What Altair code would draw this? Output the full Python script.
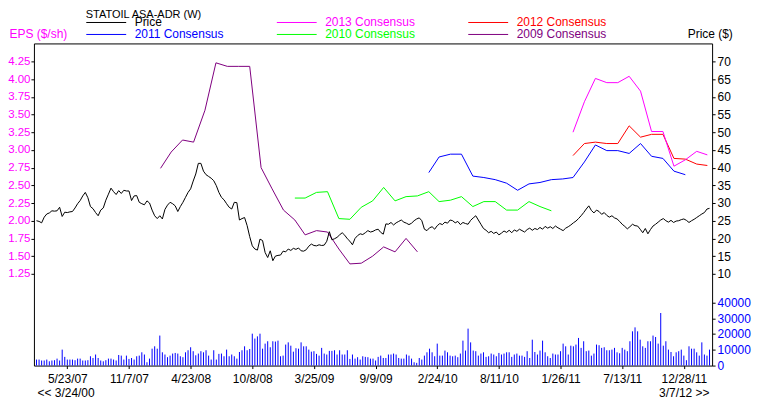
import altair as alt
import pandas as pd

# ---------------- data ----------------
week_start = "2007-02-28"
price = [
    25.0, 24.8, 24.4, 26.0, 26.9, 27.2, 27.8, 27.7, 27.8, 28.8,
    26.2, 27.4, 27.3, 27.5, 27.6, 28.6, 29.8, 30.7, 32.0, 33.0,
    31.5, 29.0, 28.4, 27.3, 26.4, 28.0, 28.6, 30.8, 32.5, 34.2,
    33.2, 32.4, 33.5, 32.7, 33.6, 33.4, 33.4, 30.7, 32.0, 32.1,
    30.2, 29.8, 29.5, 30.6, 30.0, 28.0, 26.4, 25.6, 26.4, 25.5,
    28.2, 29.4, 30.2, 29.8, 29.2, 27.6, 29.0, 30.2, 31.6, 33.0,
    34.0, 36.2, 38.2, 41.2, 41.2, 39.0, 38.0, 37.5, 37.0, 36.3,
    34.9, 33.0, 31.6, 30.9, 29.8, 28.8, 28.3, 30.2, 30.1, 25.2,
    25.6, 25.9, 23.6, 20.5, 17.9, 17.0, 16.7, 19.8, 19.4, 16.0,
    14.6, 16.5, 13.7, 15.0, 15.2, 15.3, 16.4, 16.2, 17.0, 16.6,
    17.2, 16.9, 17.3, 16.5, 16.4, 16.8, 17.8, 18.4, 18.0, 17.9,
    18.2, 18.0, 18.1, 19.2, 21.9, 19.6, 19.9, 20.3, 21.0, 21.6,
    20.9, 19.9, 19.2, 18.2, 20.0, 20.8, 21.3, 21.1, 21.6, 22.2,
    21.8, 22.0, 22.4, 22.6, 21.7, 21.2, 24.1, 24.0, 24.5, 23.8,
    24.4, 24.8, 25.2, 24.6, 24.3, 23.9, 24.3, 25.0, 25.5, 25.8,
    25.0, 22.6, 22.2, 23.0, 23.3, 22.6, 23.6, 24.2, 23.9, 24.6,
    24.3, 25.2, 25.0, 24.4, 24.8, 23.9, 24.5, 24.2, 24.0, 25.1,
    25.8, 26.4, 25.2, 24.0, 22.8, 22.3, 21.6, 22.0, 21.4, 21.8,
    21.0, 21.5, 22.1, 21.7, 22.3, 21.6, 22.4, 22.0, 22.6, 22.2,
    21.8, 22.5, 22.9, 22.3, 22.8, 22.5, 23.1, 22.6, 23.4, 22.9,
    23.3, 22.8, 23.5, 23.0, 22.6, 22.2, 22.9, 23.3, 23.8, 24.4,
    24.9, 25.6, 26.4, 27.3, 28.3, 29.2, 27.9, 27.2, 28.0, 27.6,
    26.8, 27.3, 26.5, 26.0, 26.4, 25.8, 25.5, 24.8, 24.0, 23.4,
    22.7, 23.3, 24.0, 23.6, 23.5, 22.6, 21.6, 22.8, 21.3, 22.5,
    23.5, 24.0, 24.6, 25.2, 25.6, 25.0, 24.6, 25.1, 24.5, 24.9,
    25.0, 25.3, 25.5, 25.1, 24.5, 25.0, 25.4, 25.9, 26.4, 26.9,
    27.3, 28.3, 28.5,
]
volume = [
    3800, 3800, 3200, 3200, 3800, 2700, 3200, 3400, 4400, 3200,
    10100, 5500, 3800, 3800, 3800, 3400, 4400, 4400, 3200, 3200,
    3400, 5900, 4800, 7000, 4800, 3200, 2700, 3400, 4400, 4400,
    3800, 3200, 6700, 6300, 3800, 6300, 4200, 4800, 3800, 5900,
    6300, 8400, 7000, 2100, 4400, 10700, 12200, 10700, 19000, 8400,
    7000, 5300, 6300, 7600, 8000, 7600, 5900, 5300, 8400, 9700,
    11600, 9100, 6500, 7600, 9100, 8400, 9700, 6300, 3800, 9700,
    3800, 7400, 7600, 5900, 10100, 5900, 7000, 5900, 4400, 8600,
    9700, 12200, 9700, 10500, 20200, 17100, 18500, 20200, 10700, 13900,
    15400, 11600, 15400, 15200, 15800, 5900, 6300, 13300, 14700, 12600,
    8800, 11000, 10700, 14700, 12200, 12200, 10100, 8800, 9100, 7400,
    6300, 11200, 7600, 7000, 9300, 9300, 9700, 7000, 9700, 7000,
    7000, 9700, 4200, 7000, 4400, 5300, 3800, 5900, 5500, 5300,
    4400, 4400, 3200,
    5500, 6300, 4800, 4800, 7000, 7000, 7600, 7000, 4800, 4400,
    4400, 7000, 6300, 4400, 2100, 1700, 4800, 3800, 6300, 8400,
    10700, 8400, 5900, 13900, 6300, 6300, 9500, 8400, 6300, 5900,
    6300, 5300, 7600, 15800, 9500, 23400, 14700, 9500, 9100, 6300,
    7600, 8400, 5500, 5900, 7600, 7000, 5900, 8000, 7000, 7600,
    8400, 8400, 5500, 7000, 7600, 6300, 6300, 5500, 9100, 4800,
    16400, 8600, 7000, 9500, 15800, 8400, 5900, 4800, 7600, 7000,
    7000, 9100, 13900, 12200, 7000, 12600, 12200, 13300, 17500, 11200,
    15400, 9100, 9500, 6300, 7600, 13300, 12900, 11200, 11600, 9700,
    9700, 10100, 11200, 8400, 7800, 11200, 10100, 9100, 15400, 21700,
    24200, 21700, 16400, 12200, 11200, 15400, 15400, 19000, 18100, 13900,
    33300, 12600, 15400, 10100, 8600, 5900, 8400, 9100, 10100, 6300,
    3400, 12200, 10700, 10700, 8400, 6300, 14700, 7000, 6300, 10100,
]

cons_2009_start = "2008-02-01"
cons_2009 = [2.74, 2.97, 3.14, 3.11, 3.56, 4.23, 4.18, 4.18, 4.18, 2.75, 2.45, 2.15,
             2.01, 1.80, 1.86, 1.84, 1.60, 1.39, 1.40, 1.50, 1.63, 1.56, 1.75, 1.56]
cons_2010_start = "2009-02-01"
cons_2010 = [2.32, 2.32, 2.40, 2.41, 2.03, 2.02, 2.19, 2.28, 2.47, 2.28, 2.34, 2.35,
             2.41, 2.27, 2.29, 2.34, 2.20, 2.27, 2.27, 2.15, 2.15, 2.27, 2.20, 2.14]
cons_2011_start = "2010-02-01"
cons_2011 = [2.68, 2.90, 2.94, 2.94, 2.63, 2.61, 2.58, 2.53, 2.43, 2.52, 2.54, 2.58,
             2.59, 2.61, 2.83, 3.07, 2.99, 2.99, 2.95, 3.09, 2.91, 2.88, 2.70, 2.65]
cons_2012_start = "2011-03-01"
cons_2012 = [2.92, 3.09, 3.11, 3.09, 3.09, 3.34, 3.18, 3.22, 3.22, 2.88, 2.87, 2.80, 2.78]
cons_2013_start = "2011-03-01"
cons_2013 = [3.25, 3.68, 4.01, 3.95, 3.95, 4.04, 3.83, 3.26, 3.26, 2.77, 2.86, 2.98, 2.93]

series_names = ["Price", "2013 Consensus", "2012 Consensus",
                "2011 Consensus", "2010 Consensus", "2009 Consensus"]
series_colors = ["#000000", "#ff00ff", "#ff0000", "#0000ff", "#00ff00", "#800080"]

eps_ticks = [1.25, 1.5, 1.75, 2.0, 2.25, 2.5, 2.75, 3.0, 3.25, 3.5, 3.75, 4.0, 4.25]
price_ticks = [10, 15, 20, 25, 30, 35, 40, 45, 50, 55, 60, 65, 70]
vol_ticks = [0, 10000, 20000, 30000, 40000]
date_ticks = ["2007-05-23", "2007-11-07", "2008-04-23", "2008-10-08", "2009-03-25",
              "2009-09-09", "2010-02-24", "2010-08-11", "2011-01-26", "2011-07-13",
              "2011-12-28"]
range_labels = ["<< 3/24/00", "3/7/12 >>"]
title_text = "STATOIL ASA-ADR (W)"

# ---------------- tables ----------------
weeks = pd.date_range(week_start, periods=len(price), freq="7D").strftime("%Y-%m-%d")
price_df = pd.DataFrame({"date": weeks, "price": price, "series": "Price"})
vol_df = pd.DataFrame({"date": weeks[: len(volume)], "volume": volume})

rows = []
for name, start, vals in [("2009 Consensus", cons_2009_start, cons_2009),
                          ("2010 Consensus", cons_2010_start, cons_2010),
                          ("2011 Consensus", cons_2011_start, cons_2011),
                          ("2012 Consensus", cons_2012_start, cons_2012),
                          ("2013 Consensus", cons_2013_start, cons_2013)]:
    ds = pd.date_range(start, periods=len(vals), freq="MS").strftime("%Y-%m-%d")
    for d, v in zip(ds, vals):
        rows.append({"date": d, "eps": v, "series": name})
cons_df = pd.DataFrame(rows)

left_lbl = pd.DataFrame({"date": [weeks[0]], "label": [range_labels[0]]})
right_lbl = pd.DataFrame({"date": [weeks[-1]], "label": [range_labels[1]]})


def dt(s):
    y, m, d = (int(p) for p in s.split("-"))
    return alt.DateTime(year=y, month=m, date=d, utc=True)


X = alt.X(
    "date:T",
    scale=alt.Scale(type="utc", domain=[dt("2007-02-21"), dt("2012-03-14")], nice=False),
    axis=alt.Axis(values=[dt(s) for s in date_ticks],
                  labelExpr="utcFormat(datum.value, '%-m/%-d/%y')",
                  title=None, labelPadding=5, labelFlush=False, labelOverlap=False,
                  labelColor="#000000"),
)

color_expr = "".join(
    f"datum.value === '{n}' ? '{c}' : " for n, c in zip(series_names, series_colors)
) + "'#000000'"

legend = alt.Legend(
    title=title_text, orient="none", legendX=52, legendY=-35,
    direction="horizontal", columns=3, symbolType="stroke", symbolSize=1600,
    symbolStrokeWidth=1, clipHeight=12, labelOffset=8, columnPadding=52,
    rowPadding=0, titlePadding=-3, padding=0, labelFontSize=12, titleFontSize=11,
    titleFontWeight="normal", titleColor="#000000", titleAnchor="start",
    titleBaseline="top", labelColor={"expr": color_expr},
)
COLOR = alt.Color("series:N", scale=alt.Scale(domain=series_names, range=series_colors),
                  legend=legend)

vol_layer = alt.Chart(vol_df).mark_rule(color="#0000ff", strokeWidth=1).encode(
    x=X,
    y=alt.Y("volume:Q",
            scale=alt.Scale(domain=[0, 204100], nice=False, zero=True),
            axis=alt.Axis(orient="right", values=vol_ticks, format="d",
                          labelColor="#0000ff", title=None, labelPadding=2)),
    y2=alt.datum(0),
)

cons_layer = alt.Chart(cons_df).mark_line(strokeWidth=1).encode(
    x=X,
    y=alt.Y("eps:Q",
            scale=alt.Scale(domain=[-0.046, 4.504], nice=False, zero=False),
            axis=alt.Axis(orient="left", values=eps_ticks, format=".2f",
                          labelColor="#ff00ff", labelFontSize=11.5, labelPadding=1,
                          title="EPS ($/sh)", titleColor="#ff00ff",
                          titleAngle=0, titleAlign="left", titleBaseline="alphabetic",
                          titleX=-25, titleY=-6)),
    color=COLOR,
)

price_layer = alt.Chart(price_df).mark_line(strokeWidth=1).encode(
    x=X,
    y=alt.Y("price:Q",
            scale=alt.Scale(domain=[-15.92, 75.08], nice=False, zero=False),
            axis=alt.Axis(orient="right", values=price_ticks, format="d",
                          labelColor="#000000", title="Price ($)", titleColor="#000000",
                          titleAngle=0, titleAlign="left", titleBaseline="alphabetic",
                          titleX=-25, titleY=-6, labelPadding=2)),
    color=COLOR,
)

left_text = alt.Chart(left_lbl).mark_text(align="left", baseline="top", fontSize=12,
                                          color="#000000", dx=1).encode(
    x=X, y=alt.value(346), text="label:N")
right_text = alt.Chart(right_lbl).mark_text(align="right", baseline="top", fontSize=12,
                                            color="#000000").encode(
    x=X, y=alt.value(346), text="label:N")

chart = (
    alt.layer(vol_layer, cons_layer, price_layer, left_text, right_text)
    .resolve_scale(y="independent")
    .properties(width=680, height=323,
                autosize=alt.AutoSizeParams(type="none"),
                padding={"left": 26, "top": 35, "right": 40, "bottom": 34})
    .configure(font="Liberation Sans")
    .configure_axis(labelFontSize=12, titleFontSize=12, titleFontWeight="normal",
                    grid=False, domain=False, tickColor="#000000", tickSize=3)
    .configure_view(stroke="#000000", strokeWidth=1)
)

chart.save("out.html", embed_options={"renderer": "svg", "actions": False})
